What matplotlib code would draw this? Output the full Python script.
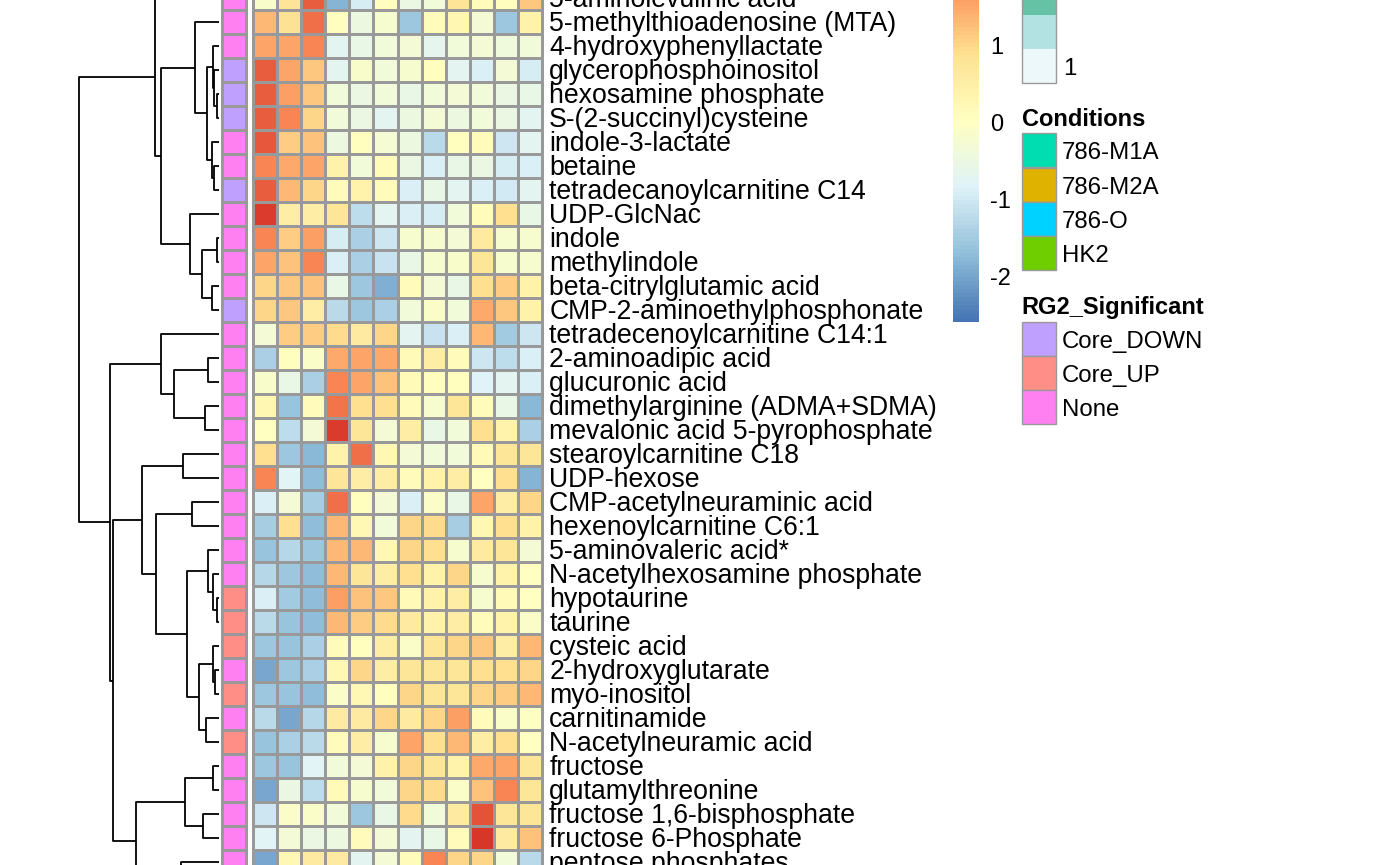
import matplotlib.pyplot as plt
import numpy as np
from matplotlib.cm import ScalarMappable
from matplotlib.colors import LinearSegmentedColormap, ListedColormap, Normalize
from matplotlib.patches import Rectangle

plt.rcParams['font.family'] = ['Liberation Sans', 'DejaVu Sans']
plt.rcParams['axes.unicode_minus'] = False

# Rows of the (cropped) heatmap, top to bottom
metabolites = [
    '5-aminolevulinic acid', '5-methylthioadenosine (MTA)',
    '4-hydroxyphenyllactate', 'glycerophosphoinositol',
    'hexosamine phosphate', 'S-(2-succinyl)cysteine', 'indole-3-lactate',
    'betaine', 'tetradecanoylcarnitine C14', 'UDP-GlcNac', 'indole',
    'methylindole', 'beta-citrylglutamic acid', 'CMP-2-aminoethylphosphonate',
    'tetradecenoylcarnitine C14:1', '2-aminoadipic acid', 'glucuronic acid',
    'dimethylarginine (ADMA+SDMA)', 'mevalonic acid 5-pyrophosphate',
    'stearoylcarnitine C18', 'UDP-hexose', 'CMP-acetylneuraminic acid',
    'hexenoylcarnitine C6:1', '5-aminovaleric acid*',
    'N-acetylhexosamine phosphate', 'hypotaurine', 'taurine', 'cysteic acid',
    '2-hydroxyglutarate', 'myo-inositol', 'carnitinamide',
    'N-acetylneuramic acid', 'fructose', 'glutamylthreonine',
    'fructose 1,6-bisphosphate', 'fructose 6-Phosphate', 'pentose phosphates',
]

# z-scores, 12 samples per row
zscores = np.array([
    [-0.15, 0.8, 2.2, -1.8, -0.95, 0.05, -0.5, -0.35, 0.8, 0.1, 0.05, 1.15],
    [1.35, 0.85, 2.05, 0.05, -0.45, -0.2, -1.55, 0.1, 0.3, -0.3, -1.55, 0.4],
    [1.55, 1.55, 1.85, -0.7, -0.55, -0.35, -0.3, -0.65, -0.35, -0.3, -0.4, -0.35],
    [2.2, 1.55, 1.15, -0.7, -0.15, -0.35, -0.2, 0.05, -0.7, -0.85, -0.3, -0.95],
    [2.2, 1.6, 1.15, -0.35, -0.5, -0.35, -0.55, -0.35, -0.3, -0.35, -0.5, -0.55],
    [2.2, 1.85, 1.0, -0.35, -0.5, -0.7, -0.45, -0.3, -0.45, -0.35, -0.5, -0.7],
    [2.3, 1.1, 1.25, -0.45, 0.05, -0.25, -0.45, -1.25, 0.05, 0.1, -1.05, -0.7],
    [1.85, 1.5, 1.55, 0.4, -0.35, 0.1, -0.5, -0.85, -0.55, -0.5, -0.95, -0.85],
    [2.2, 1.35, 1.0, 0.1, 0.4, 0.1, -0.85, -0.55, -0.7, -0.85, -1.0, -0.7],
    [2.55, 0.55, 0.55, 0.75, -1.2, -0.7, -0.85, -0.95, -0.35, 0.1, 0.9, -0.55],
    [1.85, 1.1, 1.6, -0.95, -1.4, -1.05, -0.2, -0.2, -0.3, 0.6, -0.2, -0.2],
    [1.55, 1.25, 1.85, -0.85, -1.4, -1.1, -0.55, -0.2, -0.15, 0.75, -0.2, -0.2],
    [1.0, 1.15, 1.2, -0.55, -1.55, -1.85, 0.1, -0.3, -0.55, 0.9, 1.1, 0.4],
    [1.0, 1.15, 0.55, -1.25, -1.55, -1.4, -0.35, -0.1, -0.35, 1.5, 1.15, 0.4],
    [-0.3, 1.1, 1.1, 0.95, 0.6, 1.0, -0.7, -1.1, -0.9, 1.35, -1.5, -1.05],
    [-1.4, 0.05, -0.1, 1.5, 1.55, 1.5, 0.15, 0.55, 0.1, -1.05, -1.2, -0.85],
    [-0.15, -0.55, -1.4, 1.85, 1.55, 1.25, 0.15, 0.05, 0.05, -0.8, -0.7, -0.85],
    [0.3, -1.6, 0.1, 2.0, 0.9, 0.9, 0.1, -0.2, 0.75, 0.1, -0.55, -1.75],
    [0.0, -1.2, -0.3, 2.55, 0.75, -0.3, 0.55, -0.55, -0.35, 0.9, 0.4, -1.4],
    [0.9, -1.55, -1.75, 0.4, 2.05, 0.3, -0.3, -0.35, -0.35, 0.2, 0.75, 0.75],
    [1.85, -0.75, -1.7, 0.75, 0.55, 0.55, 0.1, 0.4, 0.55, 0.0, 0.9, -1.8],
    [-0.85, -0.3, -1.45, 2.05, 0.05, -0.3, -0.85, -0.1, -0.55, 1.55, 0.55, 1.0],
    [-1.45, 0.9, -1.7, 1.35, 0.25, -0.35, 1.0, 0.95, -1.45, 0.25, 0.9, 0.4],
    [-1.6, -1.3, -1.55, 1.35, 1.35, 0.25, 1.0, 0.9, -0.2, 0.6, 0.75, -0.3],
    [-1.3, -1.55, -1.7, 1.35, 0.75, 0.55, 0.9, 0.4, 1.0, -0.2, 0.4, 0.0],
    [-0.85, -1.5, -1.7, 1.6, 1.25, 1.15, 0.15, 0.4, 0.55, -0.2, 0.15, 0.0],
    [-1.25, -1.6, -1.7, 1.35, 1.1, 0.95, 0.6, 0.4, 0.55, 0.1, 0.4, -0.1],
    [-1.55, -1.6, -1.4, 0.1, 0.05, 0.55, -0.1, 0.75, 1.0, 1.15, 0.55, 1.35],
    [-2.0, -1.55, -1.4, 0.25, 1.0, 0.55, 0.75, 0.75, 0.75, 0.9, 0.9, 1.0],
    [-1.55, -1.6, -1.7, -0.1, 0.25, 0.05, 1.0, 0.75, 0.75, 1.0, 1.1, 1.35],
    [-1.25, -2.0, -1.3, 0.6, 0.6, 1.0, 0.6, 1.0, 1.6, 0.1, -0.1, -0.05],
    [-1.6, -1.4, -1.25, 0.1, 0.55, -0.2, 1.55, 0.9, 1.35, 0.55, 0.9, 0.0],
    [-1.55, -1.6, -0.75, -0.35, -0.3, 0.4, 1.0, 0.75, 0.4, 1.5, 1.55, 0.75],
    [-2.0, -0.5, -1.2, 0.15, -0.2, -0.35, 1.0, 0.95, -0.1, 1.2, 1.85, 0.75],
    [-1.05, -0.1, -0.1, -0.35, -1.55, -0.55, 0.95, -0.35, 0.6, 2.35, 0.75, 0.75],
    [-0.75, -0.3, -0.5, -0.45, 0.1, -0.3, -0.7, -0.55, 0.1, 2.6, 0.6, 1.25],
    [-2.0, 0.25, 0.6, 0.6, -0.7, -0.3, 0.1, 1.85, 1.0, 1.0, -0.35, -1.25],
])
zmin, zmax = -2.58, 2.67

rg2_levels = ['Core_DOWN', 'Core_UP', 'None']
rg2_colors = ['#BFA0FF', '#FF8E87', '#FF80F0']
rg2_status = (['None'] * 3 + ['Core_DOWN'] * 3 + ['None'] * 2 + ['Core_DOWN']
              + ['None'] * 4 + ['Core_DOWN'] + ['None'] * 11
              + ['Core_UP'] * 3 + ['None', 'Core_UP', 'None', 'Core_UP']
              + ['None'] * 5)

condition_levels = ['786-M1A', '786-M2A', '786-O', 'HK2']
condition_colors = ['#00DDB0', '#E0B200', '#00D2FF', '#6ECE00']

# continuous column annotation, only the low end is visible
replicate_colors = ['#EDF8FB', '#B2E2E2', '#66C2A4']
replicate_label = '1'

# row clustering: (node, left, right, height); ints are row indices,
# 37/38 are rows below the visible part of the figure
row_tree = [
    ('H', 4, 5, 0.17), ('G', 3, 'H', 0.47), ('F', 2, 'G', 0.63),
    ('J', 7, 8, 0.47), ('I', 6, 'J', 0.73), ('E', 'F', 'I', 1.23),
    ('C', 1, 'E', 2.40), ('L', 10, 11, 0.17), ('M', 12, 13, 0.73),
    ('K', 'L', 'M', 1.73), ('D', 9, 'K', 2.90), ('B', 'C', 'D', 5.80),
    ('A', 0, 'B', 6.40), ('U', 15, 16, 1.13), ('V', 17, 18, 1.40),
    ('T', 'U', 'V', 4.47), ('O', 14, 'T', 5.80), ('W', 19, 20, 3.57),
    ('Y', 21, 22, 2.67), ('AD', 25, 26, 0.17), ('AC', 24, 'AD', 0.63),
    ('AA', 23, 'AC', 1.07), ('AG', 28, 29, 0.40), ('AE', 27, 'AG', 0.63),
    ('AF', 30, 31, 1.33), ('AB', 'AE', 'AF', 1.97), ('Z', 'AA', 'AB', 3.20),
    ('X', 'Y', 'Z', 6.27), ('Q', 'W', 'X', 7.73), ('AI', 32, 33, 0.63),
    ('AJ', 34, 35, 1.63), ('AH', 'AI', 'AJ', 3.37), ('BN2', 37, 38, 1.90),
    ('BN', 36, 'BN2', 3.83), ('S', 'AH', 'BN', 8.30), ('P', 'Q', 'S', 10.63),
    ('N', 'O', 'P', 10.90), ('R', 'A', 'N', 14.00),
]

W, H = 1400, 865
ROW_TOP, ROW_BOTTOM = 14 / 24, 879 / 24   # visible row range


def px_axes(fig, x0, x1, y0, y1):
    # axes from pixel box (y measured from the top)
    return fig.add_axes([x0 / W, (H - y1) / H, (x1 - x0) / W, (y1 - y0) / H])


fig = plt.figure(figsize=(W / 100, H / 100), dpi=100)

# dendrogram
ax_d = px_axes(fig, 0, 219, 0, H)
pos, hgt = {}, {}
for node, left, right, h in row_tree:
    for child in (left, right):
        if isinstance(child, int):
            pos[child] = child + 0.5
            hgt[child] = 0.0
    pos[node] = (pos[left] + pos[right]) / 2
    hgt[node] = h
    ax_d.plot([hgt[left], h, h, hgt[right]],
              [pos[left], pos[left], pos[right], pos[right]],
              color='black', lw=1.3, solid_capstyle='butt')
ax_d.set_xlim(21.9, 0)
ax_d.set_ylim(ROW_BOTTOM, ROW_TOP)
ax_d.axis('off')

# row annotation
n_rows = len(metabolites)
ax_a = px_axes(fig, 221.7, 245.7, 0, H)
codes = np.array([[rg2_levels.index(s)] for s in rg2_status])
ax_a.pcolormesh(np.arange(2), np.arange(n_rows + 1), codes,
                cmap=ListedColormap(rg2_colors), vmin=-0.5, vmax=2.5,
                edgecolors='#999999', linewidth=1.0, clip_on=False)
ax_a.set_xlim(0, 1)
ax_a.set_ylim(ROW_BOTTOM, ROW_TOP)
ax_a.axis('off')

# heatmap
cmap = LinearSegmentedColormap.from_list(
    'rdylbu_rev', ['#4575B4', '#91BFDB', '#E0F3F8', '#FFFFBF',
                   '#FEE090', '#FC8D59', '#D73027'], N=100)
norm = Normalize(vmin=zmin, vmax=zmax)
n_cols = zscores.shape[1]
ax_h = px_axes(fig, 253.3, 541.7, 0, H)
ax_h.pcolormesh(np.arange(n_cols + 1), np.arange(n_rows + 1), zscores,
                cmap=cmap, norm=norm, edgecolors='#999999', linewidth=1.0,
                clip_on=False)
ax_h.set_xlim(0, n_cols)
ax_h.set_ylim(ROW_BOTTOM, ROW_TOP)
ax_h.axis('off')
for i, name in enumerate(metabolites):
    ax_h.text(n_cols + 0.31, i + 0.58, name, ha='left', va='center',
              fontsize=19.2, clip_on=False)

# colour key
cax = px_axes(fig, 952.7, 979, 123 - 77 * zmax, 123 - 77 * zmin)
cb = fig.colorbar(ScalarMappable(norm=norm, cmap=cmap), cax=cax,
                  ticks=[-2, -1, 0, 1])
cb.outline.set_visible(False)
cax.tick_params(length=0, pad=8, labelsize=17)
for lab in cax.get_yticklabels():
    lab.set_va('center_baseline')

# annotation legends
ov = px_axes(fig, 0, W, 0, H)
ov.set_xlim(0, W)
ov.set_ylim(H, 0)
ov.axis('off')
box_x, box_w, box_h = 1021.7, 34, 34.2
txt_dy = 3

rep_bottom = 83.3
for i, col in enumerate(replicate_colors):
    ov.add_patch(Rectangle((box_x, rep_bottom - (i + 1) * box_h), box_w, box_h,
                           facecolor=col, edgecolor='none'))
ov.add_patch(Rectangle((box_x, rep_bottom - len(replicate_colors) * box_h),
                       box_w, len(replicate_colors) * box_h,
                       facecolor='none', edgecolor='#999999', lw=1.0))
ov.text(box_x + box_w + 7, rep_bottom - box_h / 2 + txt_dy, replicate_label,
        ha='left', va='center', fontsize=17.3)


def cat_legend(title, levels, colors, top):
    ov.text(box_x, top - 14, title, ha='left', va='center', fontsize=17,
            fontweight='bold')
    for i, (lev, col) in enumerate(zip(levels, colors)):
        y = top + i * box_h
        ov.add_patch(Rectangle((box_x, y), box_w, box_h, facecolor=col,
                               edgecolor='#999999', lw=1.0))
        ov.text(box_x + box_w + 6, y + box_h / 2 + txt_dy, lev, ha='left',
                va='center', fontsize=17.3)


cat_legend('Conditions', condition_levels, condition_colors, 133.3)
cat_legend('RG2_Significant', rg2_levels, rg2_colors, 321.7)

fig.savefig('out.png', dpi=100)
